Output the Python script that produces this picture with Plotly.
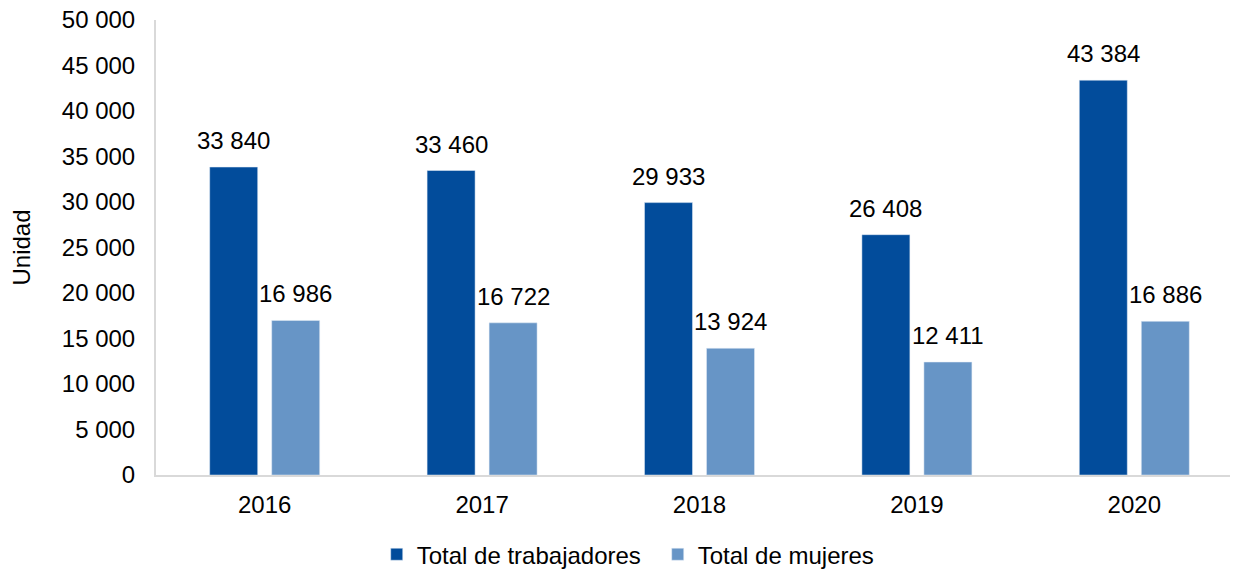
import plotly.graph_objects as go

years = ["2016", "2017", "2018", "2019", "2020"]
trabajadores = [33840, 33460, 29933, 26408, 43384]
mujeres = [16986, 16722, 13924, 12411, 16886]
series_names = ["Total de trabajadores", "Total de mujeres"]
y_ticks = list(range(0, 50001, 5000))

dark = "#024C9B"
light = "#6795C6"
font_family = "Liberation Sans, Arial, sans-serif"
FS = 24

fig = go.Figure()
fig.add_trace(go.Bar(x=years, y=trabajadores, name=series_names[0], marker_color=dark))
fig.add_trace(go.Bar(x=years, y=mujeres, name=series_names[1], marker_color=light))

def fmt(v):
    return f"{v:,}".replace(",", " ")

annotations = []
for i, (a, b) in enumerate(zip(trabajadores, mujeres)):
    annotations.append(dict(x=i, y=a, xref="x", yref="y", text=fmt(a), showarrow=False,
                            xshift=-31, yshift=11, yanchor="bottom",
                            font=dict(size=FS, color="black", family=font_family)))
    annotations.append(dict(x=i, y=b, xref="x", yref="y", text=fmt(b), showarrow=False,
                            xshift=31, yshift=11, yanchor="bottom",
                            font=dict(size=FS, color="black", family=font_family)))

# page body has an 8px default margin, so the figure is sized/offset to fill the window
fig.update_layout(
    width=1230, height=562,
    margin=dict(l=148, r=0, t=12, b=95, autoexpand=False),
    paper_bgcolor="white", plot_bgcolor="white",
    separators=", ",
    barmode="group", bargap=0.4296, bargroupgap=0.226,
    font=dict(family=font_family, size=FS, color="black"),
    showlegend=True,
    legend=dict(orientation="h", x=0.204, xanchor="left", y=-0.175, yanchor="middle",
                font=dict(size=FS), traceorder="normal",
                entrywidth=236, entrywidthmode="pixels"),
    annotations=annotations,
    xaxis=dict(type="category", range=[-0.5, 4.477], autorange=False, automargin=False,
               showline=True, linecolor="#D9D9D9", linewidth=2, showgrid=False,
               ticks="outside", ticklen=7, tickcolor="rgba(0,0,0,0)",
               tickfont=dict(size=FS)),
    yaxis=dict(range=[0, 50000], autorange=False, automargin=False,
               tickvals=y_ticks, tickformat=",d", ticklabeloverflow="allow",
               showline=True, linecolor="#D9D9D9", linewidth=2, showgrid=False,
               ticks="outside", ticklen=14, tickcolor="rgba(0,0,0,0)",
               tickfont=dict(size=FS),
               title=dict(text="Unidad", standoff=24, font=dict(size=FS))),
)

fig.write_html("out.html")
